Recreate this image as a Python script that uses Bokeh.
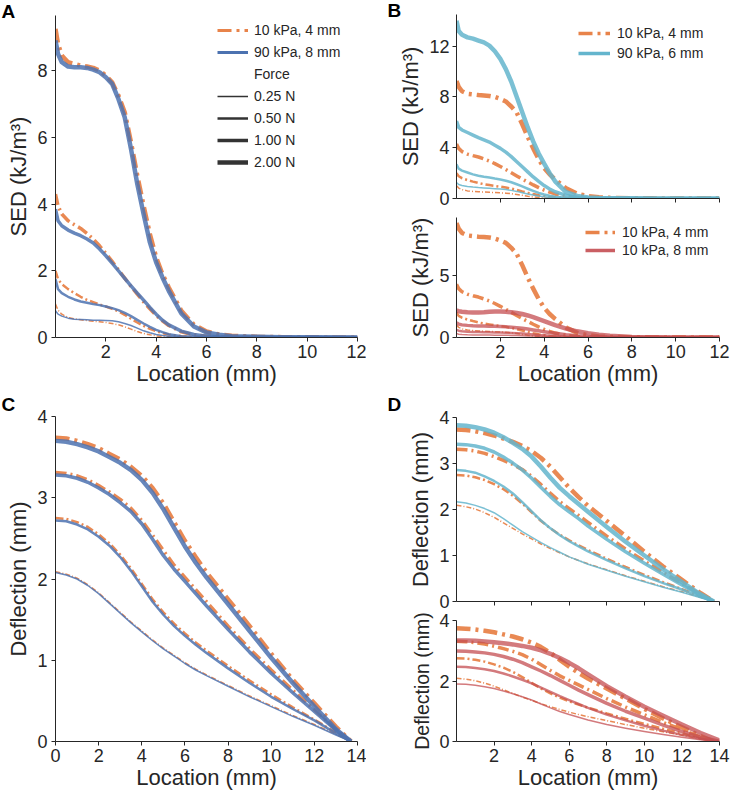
from bokeh.plotting import figure
from bokeh.models import Legend, LegendItem, FixedTicker, Range1d
from bokeh.layouts import row, column
from bokeh.embed import file_html
from bokeh.resources import INLINE

NAN = float("nan")

# ---------------- data ----------------
FORCES = ["0.25 N", "0.50 N", "1.00 N", "2.00 N"]

SED_X = [0, 0.1, 0.25, 0.5, 0.75, 1, 1.25, 1.5, 1.75, 2, 2.25, 2.5, 2.75, 3, 3.25,
         3.5, 3.75, 4, 4.25, 4.5, 5, 5.5, 6, 6.5, 7, 8, 9, 10, 12]

# 10 kPa, 4 mm (orange, dash-dot)
SED_ORANGE_025 = [1.0, 0.82, 0.7, 0.6, 0.56, 0.53, 0.51, 0.49, 0.47, 0.45, 0.42, 0.38, 0.32, 0.25, 0.18,
                  0.12, 0.08, 0.05, 0.03, 0.02, 0.01, 0, 0, 0, 0, 0, 0, 0, 0]
SED_ORANGE_050 = [2.0, 1.75, 1.6, 1.45, 1.33, 1.22, 1.13, 1.06, 0.99, 0.93, 0.86, 0.78, 0.68, 0.56, 0.45,
                  0.35, 0.26, 0.19, 0.13, 0.09, 0.04, 0.02, 0.01, 0.005, 0, 0, 0, 0, 0]
SED_ORANGE_100 = [4.3, 3.95, 3.7, 3.5, 3.38, 3.27, 3.12, 2.95, 2.75, 2.52, 2.28, 2.03, 1.78, 1.53, 1.3,
                  1.07, 0.86, 0.66, 0.5, 0.36, 0.17, 0.08, 0.04, 0.02, 0.01, 0.005, 0, 0, 0]
SED_ORANGE_200 = [9.25, 8.8, 8.45, 8.25, 8.2, 8.15, 8.12, 8.08, 8.0, 7.85, 7.65, 7.25, 6.75, 5.85, 4.85,
                  3.95, 3.1, 2.4, 1.9, 1.5, 0.8, 0.38, 0.18, 0.09, 0.05, 0.02, 0.01, 0.005, 0]

# 90 kPa, 8 mm (blue)
SED_BLUE_025 = [0.8, 0.7, 0.64, 0.58, 0.55, 0.54, 0.53, 0.52, 0.52, 0.51, 0.5, 0.47, 0.42, 0.36, 0.28,
                0.2, 0.14, 0.09, 0.06, 0.04, 0.01, 0, 0, 0, 0, 0, 0, 0, 0]
SED_BLUE_050 = [1.75, 1.45, 1.33, 1.22, 1.14, 1.08, 1.04, 1.0, 0.97, 0.93, 0.88, 0.82, 0.74, 0.64, 0.53,
                0.42, 0.32, 0.23, 0.16, 0.1, 0.04, 0.02, 0.01, 0.005, 0, 0, 0, 0, 0]
SED_BLUE_100 = [3.85, 3.5, 3.35, 3.22, 3.13, 3.05, 2.95, 2.83, 2.65, 2.45, 2.23, 2.0, 1.77, 1.55, 1.33,
                1.12, 0.9, 0.7, 0.52, 0.38, 0.19, 0.09, 0.04, 0.02, 0.01, 0.005, 0, 0, 0]
SED_BLUE_200 = [8.9, 8.5, 8.25, 8.12, 8.1, 8.1, 8.08, 8.03, 7.95, 7.8, 7.6, 7.15, 6.6, 5.65, 4.6,
                3.7, 2.85, 2.25, 1.8, 1.4, 0.72, 0.33, 0.15, 0.08, 0.04, 0.02, 0.01, 0.005, 0]

# 90 kPa, 6 mm (cyan)
SED_CYAN_025 = [1.25, 1.1, 1.02, 0.95, 0.9, 0.86, 0.83, 0.8, 0.77, 0.74, 0.7, 0.64, 0.56, 0.46, 0.36,
                0.27, 0.19, 0.13, 0.08, 0.05, 0.02, 0.01, 0, 0, 0, 0, 0, 0, 0]
SED_CYAN_050 = [2.7, 2.35, 2.2, 2.05, 1.9, 1.8, 1.72, 1.65, 1.57, 1.5, 1.4, 1.28, 1.12, 0.95, 0.77,
                0.6, 0.44, 0.31, 0.21, 0.13, 0.05, 0.02, 0.01, 0, 0, 0, 0, 0, 0]
SED_CYAN_100 = [6.1, 5.6, 5.4, 5.2, 5.0, 4.8, 4.62, 4.45, 4.2, 3.95, 3.65, 3.3, 2.9, 2.5, 2.1,
                1.7, 1.35, 1.02, 0.75, 0.53, 0.24, 0.1, 0.04, 0.02, 0.01, 0, 0, 0, 0]
SED_CYAN_200 = [14.0, 13.2, 12.9, 12.7, 12.6, 12.45, 12.3, 12.05, 11.6, 11.0, 10.2, 9.2, 8.0, 6.8, 5.6,
                4.5, 3.55, 2.75, 2.0, 1.35, 0.5, 0.2, 0.08, 0.04, 0.02, 0.01, 0, 0, 0]

# 10 kPa, 8 mm (red)
SED_RED_025 = [0.32, 0.27, 0.24, 0.22, 0.21, 0.2, 0.2, 0.2, 0.19, 0.19, 0.18, 0.17, 0.16, 0.15, 0.13,
               0.12, 0.1, 0.08, 0.06, 0.05, 0.03, 0.02, 0.01, 0, 0, 0, 0, 0, 0]
SED_RED_050 = [0.62, 0.55, 0.5, 0.47, 0.45, 0.44, 0.43, 0.42, 0.41, 0.4, 0.39, 0.37, 0.35, 0.32, 0.29,
               0.25, 0.21, 0.18, 0.15, 0.12, 0.07, 0.04, 0.02, 0.01, 0, 0, 0, 0, 0]
SED_RED_100 = [1.2, 1.08, 1.02, 0.98, 0.95, 0.93, 0.92, 0.91, 0.9, 0.88, 0.86, 0.83, 0.79, 0.74, 0.68,
               0.61, 0.54, 0.47, 0.4, 0.34, 0.23, 0.15, 0.09, 0.06, 0.03, 0.01, 0, 0, 0]
SED_RED_200 = [2.2, 2.12, 2.08, 2.04, 2.03, 2.03, 2.05, 2.08, 2.1, 2.1, 2.08, 2.04, 1.98, 1.9, 1.78,
               1.64, 1.48, 1.32, 1.16, 1.0, 0.72, 0.5, 0.34, 0.22, 0.14, 0.05, 0.02, 0.01, 0]

DEF_X = [0, 0.5, 1, 1.5, 2, 2.5, 3, 3.5, 4, 4.5, 5, 5.5, 6, 6.5, 7, 8, 9, 10, 11, 12, 13, 13.7]
DEF_X_RED = [0, 0.5, 1, 1.5, 2, 2.5, 3, 3.5, 4, 4.5, 5, 5.5, 6, 6.5, 7, 8, 9, 10, 11, 12, 13, 14]

DEF_ORANGE_025 = [2.09, 2.06, 2.01, 1.93, 1.83, 1.71, 1.59, 1.47, 1.36, 1.25, 1.15, 1.06, 0.97, 0.89, 0.82,
                  0.69, 0.56, 0.44, 0.32, 0.21, 0.09, 0.0]
DEF_ORANGE_050 = [2.75, 2.74, 2.70, 2.64, 2.55, 2.44, 2.30, 2.13, 1.94, 1.75, 1.59, 1.45, 1.33, 1.22, 1.12,
                  0.93, 0.75, 0.58, 0.42, 0.27, 0.11, 0.0]
DEF_ORANGE_100 = [3.31, 3.30, 3.27, 3.22, 3.15, 3.07, 2.98, 2.87, 2.72, 2.54, 2.35, 2.17, 2.02, 1.87, 1.72,
                  1.42, 1.14, 0.88, 0.63, 0.39, 0.15, 0.0]
DEF_ORANGE_200 = [3.74, 3.73, 3.70, 3.66, 3.61, 3.54, 3.47, 3.38, 3.27, 3.12, 2.93, 2.70, 2.47, 2.27, 2.08,
                  1.75, 1.42, 1.08, 0.76, 0.47, 0.18, 0.0]

DEF_BLUE_025 = [2.08, 2.05, 2.00, 1.92, 1.82, 1.70, 1.58, 1.46, 1.35, 1.24, 1.14, 1.05, 0.96, 0.88, 0.81,
                0.68, 0.55, 0.43, 0.31, 0.20, 0.08, 0.0]
DEF_BLUE_050 = [2.72, 2.71, 2.67, 2.61, 2.52, 2.41, 2.27, 2.10, 1.91, 1.72, 1.56, 1.42, 1.30, 1.19, 1.09,
                0.90, 0.72, 0.55, 0.40, 0.26, 0.10, 0.0]
DEF_BLUE_100 = [3.28, 3.27, 3.24, 3.19, 3.12, 3.04, 2.94, 2.83, 2.68, 2.49, 2.29, 2.12, 1.97, 1.82, 1.67,
                1.38, 1.10, 0.84, 0.60, 0.37, 0.14, 0.0]
DEF_BLUE_200 = [3.70, 3.69, 3.66, 3.62, 3.57, 3.50, 3.43, 3.34, 3.22, 3.06, 2.86, 2.63, 2.40, 2.20, 2.02,
                1.69, 1.36, 1.03, 0.72, 0.43, 0.15, 0.0]

DEF_CYAN_025 = [2.17, 2.14, 2.09, 2.02, 1.93, 1.80, 1.66, 1.52, 1.40, 1.28, 1.17, 1.07, 0.97, 0.89, 0.81,
                0.68, 0.55, 0.43, 0.31, 0.20, 0.08, 0.0]
DEF_CYAN_050 = [2.86, 2.84, 2.80, 2.72, 2.62, 2.50, 2.35, 2.16, 1.96, 1.76, 1.59, 1.44, 1.31, 1.20, 1.09,
                0.90, 0.72, 0.55, 0.40, 0.26, 0.10, 0.0]
DEF_CYAN_100 = [3.42, 3.41, 3.38, 3.33, 3.25, 3.14, 3.01, 2.86, 2.68, 2.48, 2.28, 2.10, 1.95, 1.80, 1.64,
                1.35, 1.08, 0.83, 0.59, 0.36, 0.13, 0.0]
DEF_CYAN_200 = [3.83, 3.82, 3.79, 3.74, 3.67, 3.57, 3.45, 3.32, 3.15, 2.93, 2.69, 2.47, 2.29, 2.12, 1.95,
                1.62, 1.30, 1.00, 0.70, 0.42, 0.15, 0.0]

DEF_RED_025 = [1.90, 1.89, 1.86, 1.81, 1.75, 1.67, 1.58, 1.48, 1.37, 1.24, 1.11, 0.99, 0.89, 0.80, 0.71,
               0.56, 0.44, 0.33, 0.23, 0.14, 0.06, 0.0]
DEF_RED_050 = [2.47, 2.46, 2.43, 2.39, 2.33, 2.25, 2.15, 2.04, 1.92, 1.78, 1.64, 1.50, 1.37, 1.24, 1.11,
               0.89, 0.70, 0.52, 0.36, 0.22, 0.09, 0.0]
DEF_RED_100 = [2.99, 2.98, 2.96, 2.93, 2.88, 2.81, 2.72, 2.61, 2.47, 2.33, 2.18, 2.02, 1.86, 1.70, 1.55,
               1.26, 1.00, 0.77, 0.54, 0.33, 0.14, 0.01]
DEF_RED_200 = [3.34, 3.34, 3.33, 3.31, 3.28, 3.25, 3.21, 3.16, 3.10, 3.01, 2.90, 2.76, 2.60, 2.42, 2.22,
               1.83, 1.48, 1.15, 0.85, 0.56, 0.28, 0.03]

SED_ORANGE = [SED_ORANGE_025, SED_ORANGE_050, SED_ORANGE_100, SED_ORANGE_200]
SED_BLUE = [SED_BLUE_025, SED_BLUE_050, SED_BLUE_100, SED_BLUE_200]
SED_CYAN = [SED_CYAN_025, SED_CYAN_050, SED_CYAN_100, SED_CYAN_200]
SED_RED = [SED_RED_025, SED_RED_050, SED_RED_100, SED_RED_200]
DEF_ORANGE = [DEF_ORANGE_025, DEF_ORANGE_050, DEF_ORANGE_100, DEF_ORANGE_200]
DEF_BLUE = [DEF_BLUE_025, DEF_BLUE_050, DEF_BLUE_100, DEF_BLUE_200]
DEF_CYAN = [DEF_CYAN_025, DEF_CYAN_050, DEF_CYAN_100, DEF_CYAN_200]
DEF_RED = [DEF_RED_025, DEF_RED_050, DEF_RED_100, DEF_RED_200]

# ---------------- style ----------------
FONT = "Liberation Sans"
INK = "#262626"
ORANGE, ORANGE_A = "#E8834A", 0.95
BLUE, BLUE_A = "#4C72B0", 0.85
CYAN, CYAN_A = "#64B5CD", 0.85
RED, RED_A = "#C44E52", 0.75
WIDTHS = [1.5, 2.5, 3.5, 4.5]


def dash_for(w):
    d = max(2, round(3.2 * w))
    g = max(2, round(1.1 * w))
    dot = max(1, round(0.7 * w))
    return f"{d} {g} {dot} {g}"


def make_fig(w, h, bl, br, bt, bb, xr, yr, xticks, yticks, xlabel, ylabel,
             show_xlabels=True, ystand=4, ylabel_size="22px"):
    p = figure(width=w, height=h, x_range=Range1d(*xr), y_range=Range1d(*yr),
               output_backend="svg", toolbar_location=None,
               min_border_left=bl, min_border_right=br,
               min_border_top=bt, min_border_bottom=bb)
    p.outline_line_color = None
    p.grid.visible = False
    p.background_fill_color = "white"
    p.border_fill_color = "white"
    for ax in (p.xaxis[0], p.yaxis[0]):
        ax.axis_line_color = INK
        ax.axis_line_width = 1
        ax.major_tick_line_color = INK
        ax.major_tick_out = 4
        ax.major_tick_in = 0
        ax.minor_tick_line_color = None
        ax.major_label_text_font = FONT
        ax.major_label_text_font_size = "18px"
        ax.major_label_text_color = INK
        ax.axis_label_text_font = FONT
        ax.axis_label_text_font_size = "22px"
        ax.axis_label_text_font_style = "normal"
        ax.axis_label_text_color = INK
    p.yaxis.axis_label_text_font_size = ylabel_size
    p.xaxis.ticker = FixedTicker(ticks=xticks)
    p.yaxis.ticker = FixedTicker(ticks=yticks)
    p.xaxis.major_label_standoff = 3
    p.xaxis.axis_label_standoff = 0
    p.yaxis.major_label_standoff = ystand
    p.yaxis.axis_label_standoff = 3
    if xlabel:
        p.xaxis.axis_label = xlabel
    if ylabel:
        p.yaxis.axis_label = ylabel
    if not show_xlabels:
        p.xaxis.major_label_overrides = {t: "" for t in xticks}
        p.xaxis.major_label_text_font_size = "2px"
    return p


def draw(p, xs, curves, color, alpha, dashed):
    for i, ys in enumerate(curves):
        w = WIDTHS[i]
        if dashed:
            p.line(xs, ys, line_color=color, line_alpha=alpha, line_width=w,
                   line_dash=dash_for(w))
        else:
            p.line(xs, ys, line_color=color, line_alpha=alpha, line_width=w,
                   line_join="round")


def letter(p, txt, offset, standoff):
    p.title.text = txt
    p.title.align = "left"
    p.title.offset = offset
    p.title.standoff = standoff
    p.title.text_font = FONT
    p.title.text_font_size = "19px"
    p.title.text_font_style = "bold"
    p.title.text_color = "black"


def add_legend(p, items, loc, gh, gw, standoff):
    lg = Legend(items=items, location=loc, padding=0, margin=0, spacing=2,
                glyph_height=gh, label_height=gh, glyph_width=gw,
                label_standoff=standoff, label_text_font=FONT,
                label_text_font_size="14px", label_text_color=INK,
                border_line_color=None, background_fill_alpha=0)
    p.add_layout(lg)


def dummy(p, **kw):
    return p.line([NAN], [NAN], **kw)


SED_LABEL = "SED (kJ/m³)"
DEF_LABEL = "Deflection (mm)"
LOC_LABEL = "Location (mm)"

# ---------------- panel A ----------------
pA = make_fig(366, 388, 55, 9, 15, 49, (0, 12), (0, 9.65),
              [2, 4, 6, 8, 10, 12], [0, 2, 4, 6, 8], LOC_LABEL, SED_LABEL)
draw(pA, SED_X, SED_ORANGE, ORANGE, ORANGE_A, True)
draw(pA, SED_X, SED_BLUE, BLUE, BLUE_A, False)
leg_or = dummy(pA, line_color=ORANGE, line_width=3, line_dash="14 5 3 5")
leg_bl = dummy(pA, line_color=BLUE, line_width=3)
leg_force = dummy(pA, line_color="black", line_alpha=0)
leg_f = [dummy(pA, line_color="#333333", line_width=w) for w in WIDTHS]
add_legend(pA, [LegendItem(label="10 kPa, 4 mm", renderers=[leg_or]),
                LegendItem(label="90 kPa, 8 mm", renderers=[leg_bl]),
                LegendItem(label="Force", renderers=[leg_force])] +
           [LegendItem(label=f, renderers=[r]) for f, r in zip(FORCES, leg_f)],
           (162, 165), 20, 31, 6)
letter(pA, "A", -54, -12)

# ---------------- panel B top ----------------
pBt = make_fig(364, 208, 90, 11, 14, 10, (0, 12), (0, 14.5),
               [2, 4, 6, 8, 10, 12], [0, 4, 8, 12], None, SED_LABEL,
               show_xlabels=False, ystand=3)
draw(pBt, SED_X, SED_ORANGE, ORANGE, ORANGE_A, True)
draw(pBt, SED_X, SED_CYAN, CYAN, CYAN_A, False)
lo1 = dummy(pBt, line_color=ORANGE, line_width=3.5, line_dash="14 5 3 5")
lc1 = dummy(pBt, line_color=CYAN, line_width=3.5)
add_legend(pBt, [LegendItem(label="10 kPa, 4 mm", renderers=[lo1]),
                 LegendItem(label="90 kPa, 6 mm", renderers=[lc1])],
           (122, 136), 18, 32, 7)
letter(pBt, "B", -69, -12)

# ---------------- panel B bottom ----------------
pBb = make_fig(364, 180, 90, 11, 9, 49, (0, 12), (0, 9.7),
               [2, 4, 6, 8, 10, 12], [0, 5], LOC_LABEL, SED_LABEL, ystand=3)
draw(pBb, SED_X, SED_ORANGE, ORANGE, ORANGE_A, True)
draw(pBb, SED_X, SED_RED, RED, RED_A, False)
lo2 = dummy(pBb, line_color=ORANGE, line_width=3.5, line_dash="14 5 3 5")
lr2 = dummy(pBb, line_color=RED, line_width=3.5, line_alpha=0.9)
add_legend(pBb, [LegendItem(label="10 kPa, 4 mm", renderers=[lo2]),
                 LegendItem(label="10 kPa, 8 mm", renderers=[lr2])],
           (129, 79), 16, 30, 7)

# ---------------- panel C ----------------
pC = make_fig(366, 404, 55, 9, 28, 50, (0, 14), (0, 4),
              [0, 2, 4, 6, 8, 10, 12, 14], [0, 1, 2, 3, 4], LOC_LABEL, DEF_LABEL)
draw(pC, DEF_X, DEF_ORANGE, ORANGE, ORANGE_A, True)
draw(pC, DEF_X, DEF_BLUE, BLUE, BLUE_A, False)
letter(pC, "C", -54, 4)

# ---------------- panel D top ----------------
pDt = make_fig(364, 223, 90, 11, 29, 10, (0, 14), (0, 4),
               [2, 4, 6, 8, 10, 12, 14], [0, 1, 2, 3, 4], None, DEF_LABEL,
               show_xlabels=False, ystand=3)
draw(pDt, DEF_X, DEF_ORANGE, ORANGE, ORANGE_A, True)
draw(pDt, DEF_X, DEF_CYAN, CYAN, CYAN_A, False)
letter(pDt, "D", -69, 5)

# ---------------- panel D bottom ----------------
pDb = make_fig(364, 181, 90, 11, 9, 50, (0, 14), (0, 4),
               [2, 4, 6, 8, 10, 12, 14], [0, 2, 4], LOC_LABEL, DEF_LABEL, ystand=3,
               ylabel_size="19.5px")
draw(pDb, DEF_X, DEF_ORANGE, ORANGE, ORANGE_A, True)
draw(pDb, DEF_X_RED, DEF_RED, RED, RED_A, False)

layout = row(column(pA, pC), column(pBt, pBb, pDt, pDb))

open("out.html", "w").write(file_html(layout, INLINE))
